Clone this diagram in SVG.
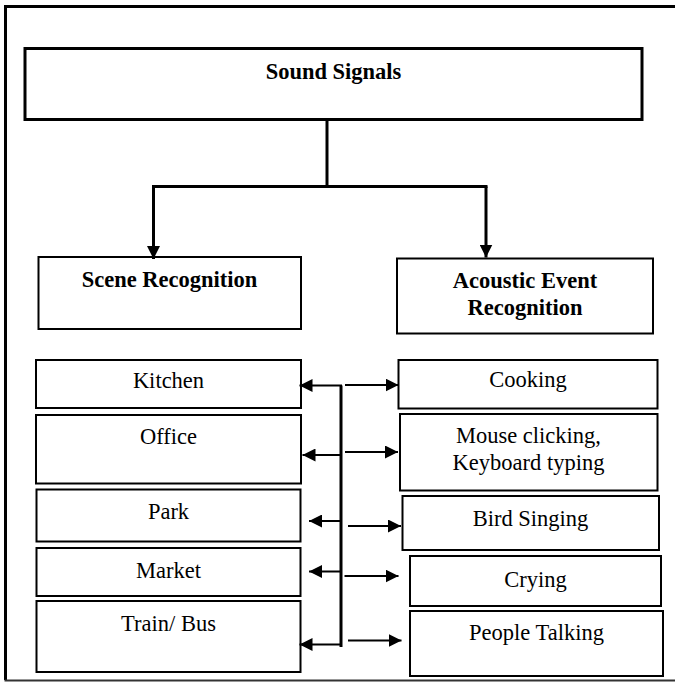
<svg xmlns="http://www.w3.org/2000/svg" width="675" height="690" viewBox="0 0 675 690">
  <style>
    .box { fill: #fff; stroke: #000; stroke-width: 2; }
    .main { stroke-width: 3; }
    text { font-family: 'Liberation Serif', 'Times New Roman', Times, 'DejaVu Serif', serif; font-size: 22.5px; text-anchor: middle; fill: #000; }
    .head { font-weight: bold; }
    .wire { fill: none; stroke: #000; stroke-width: 3; }
    .link { fill: none; stroke: #000; stroke-width: 2; }
  </style>
  <defs>
    <marker id="head" markerUnits="userSpaceOnUse" markerWidth="14" markerHeight="13" refX="13" refY="6.5" orient="auto">
      <path d="M0,0 L13,6.5 L0,13 z" fill="#000"/>
    </marker>
  </defs>

  <rect width="675" height="690" fill="#fff"/>

  <!-- outer frame (open on the right) -->
  <g id="frame">
    <path d="M676,6.5 H5.5 V680" fill="none" stroke="#000" stroke-width="3"/>
    <path d="M4.5,680.5 H676" fill="none" stroke="#333" stroke-width="2"/>
  </g>

  <g id="sound-signals">
    <rect class="box main" x="25" y="48.5" width="617" height="71"/>
    <text class="head" x="333.5" y="79">Sound Signals</text>
  </g>

  <g id="scene-recognition">
    <rect class="box" x="38.5" y="257" width="262.5" height="72"/>
    <text class="head" x="169.5" y="286.5">Scene Recognition</text>
  </g>

  <g id="acoustic-event-recognition">
    <rect class="box" x="397" y="258.5" width="256" height="75"/>
    <text class="head" x="525" y="287.5">Acoustic Event</text>
    <text class="head" x="525" y="315">Recognition</text>
  </g>

  <!-- scenes -->
  <g id="kitchen">
    <rect class="box" x="36" y="360" width="265" height="48"/>
    <text x="168.5" y="388.3">Kitchen</text>
  </g>
  <g id="office">
    <rect class="box" x="36" y="415" width="265" height="68.5"/>
    <text x="168.5" y="444">Office</text>
  </g>
  <g id="park">
    <rect class="box" x="36.5" y="489.5" width="264" height="52"/>
    <text x="168.5" y="519">Park</text>
  </g>
  <g id="market">
    <rect class="box" x="36.5" y="548" width="264" height="48"/>
    <text x="168.5" y="578.3">Market</text>
  </g>
  <g id="train-bus">
    <rect class="box" x="36.5" y="601" width="264" height="71"/>
    <text x="168.5" y="630.7">Train/ Bus</text>
  </g>

  <!-- events -->
  <g id="cooking">
    <rect class="box" x="398.5" y="360" width="259" height="48.5"/>
    <text x="528" y="386.7">Cooking</text>
  </g>
  <g id="mouse-keyboard">
    <rect class="box" x="400" y="414" width="257.5" height="76.5"/>
    <text x="528.5" y="443.3">Mouse clicking,</text>
    <text x="528.5" y="470">Keyboard typing</text>
  </g>
  <g id="bird-singing">
    <rect class="box" x="402.5" y="496" width="256.5" height="54"/>
    <text x="530.5" y="526">Bird Singing</text>
  </g>
  <g id="crying">
    <rect class="box" x="410" y="556" width="251" height="50"/>
    <text x="535.5" y="586.7">Crying</text>
  </g>
  <g id="people-talking">
    <rect class="box" x="410" y="611" width="253" height="65"/>
    <text x="536.5" y="640">People Talking</text>
  </g>

  <g id="connectors">
    <!-- tree from the top box -->
    <path class="wire" d="M327,120 V188"/>
    <path class="wire" d="M152,186.5 H487.5"/>
    <path class="wire" d="M153.5,186.5 V259" marker-end="url(#head)"/>
    <path class="wire" d="M486,186.5 V257.5" marker-end="url(#head)"/>

    <!-- spine between the two columns -->
    <path class="wire" d="M341,385.5 V647"/>

    <!-- to scenes -->
    <path class="link" d="M342,385.5 H299.5" marker-end="url(#head)"/>
    <path class="link" d="M341,455 H302.5" marker-end="url(#head)"/>
    <path class="link" d="M341,521 H309" marker-end="url(#head)"/>
    <path class="link" d="M341,571.5 H309" marker-end="url(#head)"/>
    <path class="link" d="M341,644.5 H299.5" marker-end="url(#head)"/>

    <!-- to events -->
    <path class="link" d="M345,385 H398.5" marker-end="url(#head)"/>
    <path class="link" d="M345,452 H398" marker-end="url(#head)"/>
    <path class="link" d="M348,526 H401" marker-end="url(#head)"/>
    <path class="link" d="M344.5,576 H398.5" marker-end="url(#head)"/>
    <path class="link" d="M348,640.5 H401.5" marker-end="url(#head)"/>
  </g>
</svg>
